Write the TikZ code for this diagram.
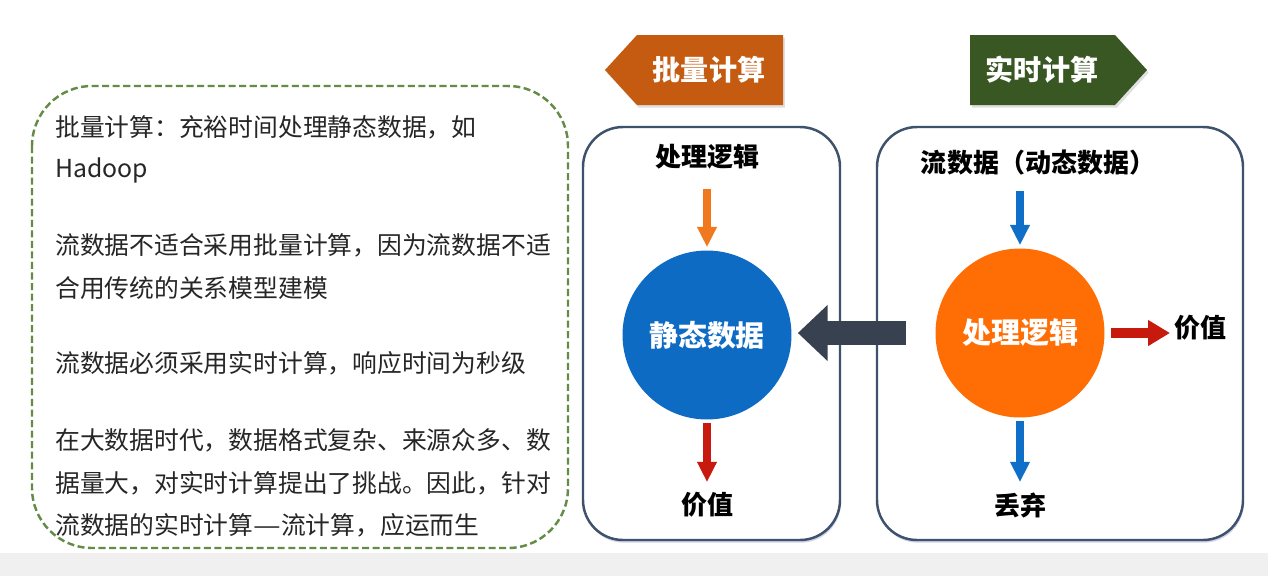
\documentclass[tikz,border=0pt]{standalone}
\usepackage{fontspec}
\newfontfamily\cjk{Noto Sans CJK SC}
\usetikzlibrary{arrows.meta,shadows}
\definecolor{dashgreen}{RGB}{100,140,70}
\definecolor{bandgray}{RGB}{240,240,240}
\definecolor{batchorange}{RGB}{197,90,17}
\definecolor{rtgreen}{RGB}{56,87,35}
\definecolor{panelblue}{RGB}{62,82,108}
\definecolor{circblue}{RGB}{14,107,196}
\definecolor{circorange}{RGB}{255,110,5}
\definecolor{arrorange}{RGB}{240,120,30}
\definecolor{arrred}{RGB}{200,25,15}
\definecolor{arrblue}{RGB}{15,110,200}
\definecolor{arrdark}{RGB}{55,65,80}
\tikzset{
  bodytext/.style={anchor=west,inner sep=0pt,font=\cjk\fontsize{14.1pt}{16pt}\selectfont,text=black!85},
  label/.style={inner sep=0pt,font=\cjk\bfseries\fontsize{14.8pt}{17pt}\selectfont,text=black},
  titletext/.style={inner sep=0pt,font=\cjk\bfseries\fontsize{16pt}{18pt}\selectfont,text=white},
  circtext/.style={circle,minimum size=3.38cm,inner sep=0pt,font=\cjk\bfseries\fontsize{16.5pt}{18pt}\selectfont,text=white},
  panel/.style={draw=panelblue,line width=1.4pt,fill=white,rounded corners=0.8cm,
    drop shadow={shadow xshift=0.5pt,shadow yshift=-1.5pt,opacity=0.25,fill=blue!40!gray}},
  varrow/.style={line width=4.5pt,line cap=butt,-{Triangle[width=10.5pt,length=11.5pt]}},
  harrow/.style={line width=5.7pt,line cap=butt,-{Triangle[width=14pt,length=12.5pt]}},
  bigarrow/.style={line width=14.2pt,line cap=butt,-{Triangle[width=31pt,length=17pt]}},
}
\begin{document}
\begin{tikzpicture}[x=0.02cm,y=-0.02cm]
\useasboundingbox (0,0) rectangle (1268,576);
\fill[white] (0,0) rectangle (1268,576);
\fill[bandgray] (0,553) rectangle (1268,576);

% left dashed box
\draw[dashgreen,line width=1.4pt,dash pattern=on 4pt off 2pt,rounded corners=1.2cm,fill=white]
  (32,86) rectangle (568,548);
\node[bodytext] (l1) at (55,127) {批量计算：充裕时间处理静态数据，如};
\node[bodytext] (l2) at (55,170) {Hadoop};
\node[bodytext] (l3) at (55,245) {流数据不适合采用批量计算，因为流数据不适};
\node[bodytext] (l4) at (55,288) {合用传统的关系模型建模};
\node[bodytext] (l5) at (55,363) {流数据必须采用实时计算，响应时间为秒级};
\node[bodytext] (l6) at (55,440) {在大数据时代，数据格式复杂、来源众多、数};
\node[bodytext] (l7) at (55,483) {据量大，对实时计算提出了挑战。因此，针对};
\node[bodytext] (l8) at (55,525) {流数据的实时计算\scalebox{1.25}[1]{—}流计算，应运而生};

% title pentagons
\fill[batchorange,drop shadow={opacity=0.25,shadow xshift=1pt,shadow yshift=-1.5pt}]
  (605,70) -- (637,35) -- (783,35) -- (783,105) -- (637,105) -- cycle;
\node[titletext] (bt) at (709,70) {批量计算};
\fill[rtgreen,drop shadow={opacity=0.25,shadow xshift=1pt,shadow yshift=-1.5pt}]
  (970,35) -- (1115,35) -- (1147,70) -- (1115,105) -- (970,105) -- cycle;
\node[titletext] (rt) at (1042,70) {实时计算};

% panels
\draw[panel] (583,127) rectangle (840,540);
\draw[panel] (877,127) rectangle (1243,540);

% left panel
\node[label] (t1) at (707,157) {处理逻辑};
\node[circtext,fill=circblue] (c1) at (707,335) {静态数据};
\node[label] (v1) at (707,505) {价值};
\draw[varrow,arrorange,shorten <=0.38cm,shorten >=0.06cm] (t1.south) -- (c1.north);
\draw[varrow,arrred,shorten <=0.06cm,shorten >=0.2cm] (c1.south) -- (v1.north);

% right panel
\node[label] (t2) at (1038,163) {流数据（动态数据）};
\node[circtext,fill=circorange] (c2) at (1020,333) {处理逻辑};
\node[label] (d2) at (1020,505) {丢弃};
\node[label,anchor=west] (v2) at (1174,328) {价值};
\draw[varrow,arrblue,shorten <=0.3cm,shorten >=0.06cm] (c2.north |- t2.south) -- (c2.north);
\draw[varrow,arrblue,shorten <=0.06cm,shorten >=0.2cm] (c2.south) -- (d2.north);
\draw[harrow,arrred,shorten <=0.12cm,shorten >=0.08cm] (c2.east) -- (c2.east -| v2.west);

% big arrow between panels
\draw[bigarrow,arrdark,shorten <=0.58cm,shorten >=0.12cm] (c2.west) -- (c2.west -| c1.east);
\end{tikzpicture}
\end{document}
